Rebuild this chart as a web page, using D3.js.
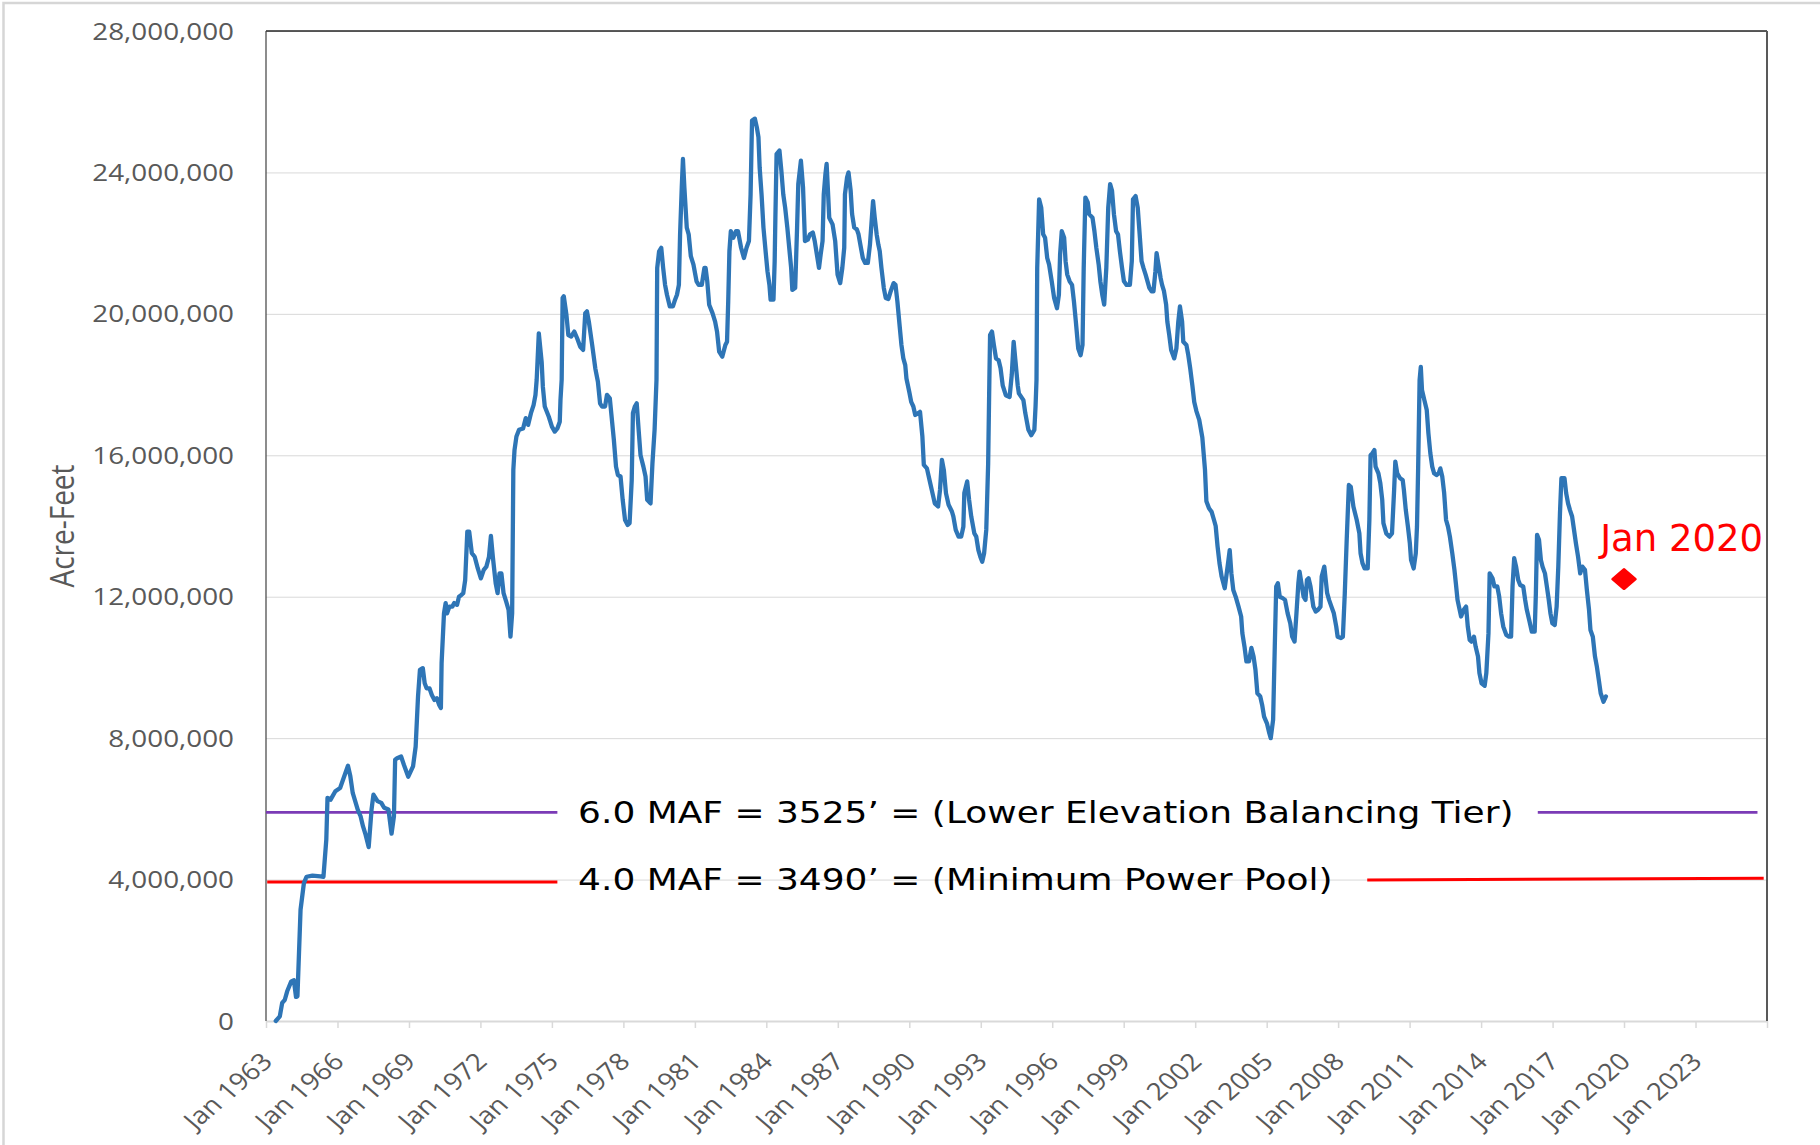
<html>
<head>
<script src="https://d3js.org/d3.v7.min.js"></script>
<style>
  body { margin: 0; background: #fff; }
  .gridlines line { stroke: #d9d9d9; }
  .gridlines .domain { stroke: none; }
  .tick-label { font-family: "Open Sans", sans-serif; font-size: 24px; fill: #595959; }
</style>
</head>
<body>
<script>
// Lake storage in million acre-feet, [decimal year, MAF]
const storage1963to1979 = [
  [1963.41,0.0],[1963.58,0.13],[1963.68,0.51],[1963.79,0.6],[1963.89,0.84],[1964.06,1.12],[1964.17,1.15],
  [1964.26,0.68],[1964.32,0.7],[1964.45,3.15],[1964.59,3.9],[1964.70,4.08],[1964.95,4.11],[1965.28,4.09],
  [1965.41,4.08],[1965.53,5.13],[1965.58,6.31],[1965.71,6.26],[1965.91,6.5],[1966.11,6.59],[1966.31,6.97],
  [1966.44,7.22],[1966.54,6.92],[1966.64,6.45],[1966.85,5.98],[1966.97,5.79],[1967.07,5.51],[1967.18,5.27],
  [1967.31,4.92],[1967.43,5.98],[1967.51,6.4],[1967.68,6.22],[1967.84,6.17],[1967.96,6.03],[1968.14,5.98],
  [1968.27,5.3],[1968.37,5.79],[1968.42,7.39],[1968.5,7.43],[1968.67,7.48],[1968.79,7.24],[1968.97,6.91],
  [1969.17,7.2],[1969.28,7.76],[1969.38,9.18],[1969.46,9.93],[1969.58,9.98],[1969.66,9.55],[1969.74,9.41],
  [1969.86,9.41],[1969.96,9.22],[1970.07,9.08],[1970.17,9.13],[1970.27,8.94],[1970.34,8.85],[1970.37,10.12],
  [1970.47,11.53],[1970.54,11.82],[1970.60,11.53],[1970.70,11.72],[1970.82,11.72],[1970.90,11.82],[1971.02,11.77],
  [1971.10,12.0],[1971.20,12.05],[1971.28,12.1],[1971.36,12.47],[1971.45,13.84],[1971.53,13.84],[1971.64,13.23],
  [1971.76,13.13],[1971.89,12.8],[1972.02,12.52],[1972.14,12.76],[1972.25,12.85],[1972.36,13.13],[1972.44,13.72],
  [1972.52,13.13],[1972.64,12.38],[1972.72,12.1],[1972.80,12.66],[1972.88,12.66],[1972.97,12.1],[1973.08,11.86],
  [1973.18,11.63],[1973.26,10.87],[1973.33,11.53],[1973.38,15.59],[1973.43,16.15],[1973.51,16.53],[1973.62,16.72],
  [1973.79,16.76],[1973.90,17.05],[1974.00,16.86],[1974.12,17.19],[1974.23,17.42],[1974.31,17.71],[1974.36,18.13],
  [1974.45,19.45],[1974.57,18.64],[1974.62,17.94],[1974.70,17.38],[1974.87,17.09],[1975.00,16.81],[1975.12,16.67],
  [1975.23,16.76],[1975.33,16.95],[1975.36,17.56],[1975.41,18.13],[1975.45,20.45],[1975.50,20.5],[1975.61,19.97],
  [1975.69,19.4],[1975.81,19.36],[1975.94,19.5],[1976.06,19.31],[1976.19,19.07],[1976.31,18.98],[1976.40,20.02],
  [1976.47,20.07],[1976.55,19.78],[1976.69,19.12],[1976.82,18.46],[1976.93,18.08],[1977.02,17.47],[1977.10,17.38],
  [1977.23,17.38],[1977.31,17.71],[1977.43,17.61],[1977.60,16.43],[1977.69,15.68],[1977.77,15.44],[1977.88,15.4],
  [1977.97,14.74],[1978.07,14.17],[1978.18,14.03],[1978.26,14.08],[1978.35,15.3],[1978.40,17.19],[1978.48,17.38],
  [1978.56,17.47],[1978.64,16.72],[1978.72,16.0],[1978.84,15.68],[1978.93,15.4],[1979.00,14.74],[1979.14,14.64],
  [1979.22,15.77],[1979.31,16.72],[1979.39,18.13],[1979.42,21.3],[1979.50,21.77],[1979.59,21.87],[1979.67,21.3],
  [1979.75,20.82],[1979.83,20.54],[1979.95,20.21]
];
const storage1980to1994 = [
  [1980.08,20.21],[1980.17,20.4],[1980.25,20.54],[1980.33,20.82],[1980.38,22.25],[1980.45,23.57],[1980.50,24.38],
  [1980.56,23.57],[1980.66,22.44],[1980.74,22.25],[1980.83,21.63],[1980.94,21.39],[1981.07,20.92],[1981.16,20.82],
  [1981.29,20.82],[1981.40,21.3],[1981.45,21.3],[1981.52,20.92],[1981.60,20.26],[1981.74,20.02],[1981.85,19.78],
  [1981.93,19.5],[1982.02,18.93],[1982.15,18.79],[1982.28,19.12],[1982.35,19.21],[1982.40,20.35],[1982.45,21.77],
  [1982.51,22.34],[1982.61,22.15],[1982.73,22.34],[1982.81,22.34],[1982.94,21.87],[1983.06,21.58],[1983.17,21.87],
  [1983.27,22.06],[1983.34,23.38],[1983.40,25.47],[1983.52,25.52],[1983.60,25.28],[1983.67,25.0],[1983.72,24.14],
  [1983.80,23.38],[1983.88,22.44],[1983.97,21.77],[1984.05,21.2],[1984.13,20.82],[1984.18,20.4],[1984.30,20.4],
  [1984.35,21.49],[1984.38,22.72],[1984.43,24.52],[1984.55,24.62],[1984.63,24.05],[1984.71,23.38],[1984.79,23.0],
  [1984.88,22.44],[1984.96,21.87],[1985.04,21.3],[1985.09,20.68],[1985.21,20.73],[1985.29,22.44],[1985.34,23.67],
  [1985.45,24.33],[1985.54,23.57],[1985.62,22.06],[1985.74,22.1],[1985.83,22.25],[1985.95,22.3],[1986.03,22.06],
  [1986.12,21.68],[1986.21,21.3],[1986.28,21.68],[1986.36,22.06],[1986.41,23.38],[1986.48,23.95],[1986.53,24.24],
  [1986.58,23.57],[1986.64,22.72],[1986.78,22.53],[1986.89,22.06],[1986.99,21.11],[1987.10,20.87],[1987.19,21.3],
  [1987.27,21.87],[1987.30,23.38],[1987.39,23.86],[1987.45,24.0],[1987.54,23.48],[1987.60,22.82],[1987.69,22.44],
  [1987.80,22.39],[1987.87,22.25],[1987.97,21.87],[1988.05,21.58],[1988.15,21.44],[1988.26,21.44],[1988.35,21.96],
  [1988.43,22.72],[1988.48,23.19],[1988.55,22.72],[1988.63,22.25],[1988.70,21.96],[1988.76,21.77],[1988.83,21.3],
  [1988.93,20.73],[1989.01,20.45],[1989.12,20.42],[1989.22,20.64],[1989.34,20.87],[1989.42,20.82],[1989.50,20.35],
  [1989.59,19.69],[1989.67,19.12],[1989.75,18.74],[1989.83,18.55],[1989.88,18.17],[1990.00,17.79],[1990.08,17.51],
  [1990.17,17.38],[1990.25,17.14],[1990.38,17.19],[1990.45,17.23],[1990.55,16.53],[1990.61,15.73],[1990.74,15.63],
  [1990.88,15.21],[1990.99,14.88],[1991.07,14.64],[1991.21,14.55],[1991.29,15.02],[1991.37,15.87],[1991.45,15.59],
  [1991.54,14.93],[1991.65,14.6],[1991.79,14.41],[1991.85,14.27],[1991.95,13.89],[1992.07,13.7],[1992.18,13.7],
  [1992.27,13.98],[1992.31,14.93],[1992.43,15.26],[1992.51,14.74],[1992.60,14.27],[1992.73,13.79],[1992.81,13.7],
  [1992.90,13.32],[1992.98,13.13],[1993.06,12.99],[1993.14,13.23],[1993.23,13.89],[1993.31,15.77],[1993.36,18.13],
  [1993.39,19.4],[1993.47,19.5],[1993.55,19.12],[1993.64,18.74],[1993.75,18.69],[1993.83,18.46],[1993.92,17.98],
  [1994.05,17.7],[1994.21,17.65],[1994.30,18.27],[1994.38,19.21],[1994.46,18.64],[1994.55,17.98],[1994.60,17.75],
  [1994.79,17.56],[1994.87,17.19]
];
const storage1995to2008 = [
  [1995.00,16.72],[1995.12,16.57],[1995.25,16.72],[1995.30,17.38],[1995.34,18.13],[1995.37,21.3],[1995.45,23.24],
  [1995.54,23.0],[1995.62,22.25],[1995.70,22.15],[1995.79,21.58],[1995.87,21.39],[1995.98,20.92],[1996.08,20.45],
  [1996.20,20.16],[1996.28,20.54],[1996.33,21.68],[1996.40,22.34],[1996.50,22.15],[1996.56,21.49],[1996.63,21.11],
  [1996.73,20.92],[1996.83,20.82],[1996.91,20.35],[1996.99,19.78],[1997.09,19.02],[1997.19,18.83],[1997.27,19.12],
  [1997.32,21.3],[1997.39,23.29],[1997.49,23.15],[1997.55,22.82],[1997.69,22.72],[1997.77,22.34],[1997.85,21.87],
  [1997.95,21.39],[1998.02,20.92],[1998.10,20.54],[1998.18,20.26],[1998.27,21.3],[1998.35,23.0],[1998.43,23.67],
  [1998.51,23.48],[1998.59,22.82],[1998.68,22.34],[1998.76,22.25],[1998.84,21.77],[1998.93,21.3],[1999.01,20.92],
  [1999.12,20.82],[1999.26,20.82],[1999.34,21.49],[1999.39,23.24],[1999.50,23.33],[1999.59,23.0],[1999.67,22.25],
  [1999.75,21.49],[1999.83,21.3],[1999.92,21.11],[2000.00,20.92],[2000.08,20.73],[2000.17,20.64],[2000.25,20.64],
  [2000.33,21.2],[2000.38,21.72],[2000.46,21.39],[2000.55,21.01],[2000.61,20.82],[2000.69,20.64],[2000.78,20.26],
  [2000.83,19.78],[2000.91,19.4],[2000.99,18.98],[2001.12,18.74],[2001.21,19.02],[2001.29,19.78],[2001.36,20.21],
  [2001.45,19.78],[2001.50,19.21],[2001.63,19.12],[2001.71,18.83],[2001.79,18.46],[2001.88,17.98],[2001.96,17.51],
  [2002.05,17.25],[2002.17,17.0],[2002.30,16.5],[2002.41,15.6],[2002.47,14.7],[2002.58,14.5],[2002.69,14.4],
  [2002.79,14.17],[2002.86,14.0],[2002.94,13.42],[2003.02,12.95],[2003.11,12.57],[2003.24,12.24],[2003.36,12.85],
  [2003.45,13.32],[2003.52,12.66],[2003.60,12.19],[2003.70,12.0],[2003.82,11.72],[2003.93,11.44],[2003.98,10.97],
  [2004.07,10.59],[2004.15,10.17],[2004.26,10.17],[2004.36,10.55],[2004.45,10.31],[2004.53,9.93],[2004.61,9.27],
  [2004.73,9.18],[2004.81,8.94],[2004.89,8.61],[2005.01,8.42],[2005.11,8.14],[2005.17,8.0],[2005.27,8.52],
  [2005.34,10.59],[2005.40,12.29],[2005.47,12.38],[2005.55,12.0],[2005.67,11.96],[2005.77,11.91],[2005.88,11.53],
  [2005.99,11.25],[2006.07,10.87],[2006.17,10.73],[2006.25,11.53],[2006.33,12.38],[2006.38,12.71],[2006.46,12.38],
  [2006.55,12.0],[2006.63,11.91],[2006.69,12.47],[2006.76,12.52],[2006.84,12.29],[2006.96,11.72],[2007.06,11.58],
  [2007.16,11.63],[2007.26,11.72],[2007.31,12.57],[2007.42,12.85],[2007.54,12.1],[2007.62,11.91],[2007.72,11.72],
  [2007.82,11.53],[2007.92,11.16],[2007.98,10.87],[2008.12,10.83],[2008.20,10.87],[2008.28,12.1],[2008.36,13.61],
  [2008.45,15.16],[2008.53,15.11],[2008.64,14.55],[2008.78,14.17],[2008.89,13.79],[2008.94,13.23]
];
const storage2009to2019 = [
  [2009.02,12.95],[2009.11,12.8],[2009.24,12.8],[2009.31,14.17],[2009.36,16.0],[2009.44,16.06],[2009.52,16.15],
  [2009.57,15.68],[2009.69,15.49],[2009.77,15.21],[2009.85,14.74],[2009.90,14.08],[2010.02,13.79],[2010.15,13.7],
  [2010.26,13.79],[2010.35,15.02],[2010.40,15.82],[2010.48,15.49],[2010.60,15.35],[2010.71,15.3],[2010.76,15.02],
  [2010.84,14.45],[2010.93,13.98],[2011.01,13.51],[2011.06,13.04],[2011.17,12.8],[2011.26,13.23],[2011.31,13.98],
  [2011.36,15.68],[2011.42,18.13],[2011.47,18.5],[2011.52,17.85],[2011.62,17.56],[2011.72,17.28],[2011.79,16.62],
  [2011.87,16.06],[2011.95,15.68],[2012.03,15.49],[2012.13,15.44],[2012.22,15.49],[2012.29,15.63],[2012.37,15.4],
  [2012.45,14.93],[2012.53,14.17],[2012.61,13.98],[2012.69,13.7],[2012.79,13.23],[2012.88,12.76],[2012.94,12.38],
  [2013.01,11.91],[2013.07,11.72],[2013.16,11.44],[2013.27,11.63],[2013.37,11.72],[2013.44,11.16],[2013.52,10.78],
  [2013.60,10.73],[2013.70,10.87],[2013.77,10.59],[2013.87,10.31],[2013.93,9.84],[2014.02,9.55],[2014.15,9.48],
  [2014.22,9.84],[2014.31,10.97],[2014.36,12.66],[2014.48,12.52],[2014.56,12.29],[2014.68,12.29],[2014.76,12.0],
  [2014.84,11.53],[2014.93,11.16],[2015.06,10.92],[2015.17,10.87],[2015.26,10.87],[2015.32,12.29],[2015.39,13.09],
  [2015.47,12.85],[2015.56,12.47],[2015.64,12.33],[2015.77,12.29],[2015.85,11.91],[2015.92,11.63],[2016.02,11.34],
  [2016.13,11.01],[2016.25,11.01],[2016.30,12.1],[2016.35,13.75],[2016.43,13.61],[2016.51,13.04],[2016.58,12.85],
  [2016.68,12.66],[2016.76,12.29],[2016.84,11.91],[2016.91,11.53],[2016.99,11.25],[2017.09,11.2],[2017.17,11.72],
  [2017.24,12.85],[2017.31,14.36],[2017.37,15.35],[2017.50,15.35],[2017.57,14.93],[2017.65,14.64],[2017.73,14.45],
  [2017.82,14.27],[2017.90,13.89],[2017.98,13.51],[2018.07,13.13],[2018.16,12.66],[2018.25,12.85],[2018.36,12.76],
  [2018.44,12.19],[2018.53,11.63],[2018.59,11.06],[2018.69,10.87],[2018.78,10.31],[2018.86,10.02],[2018.94,9.65],
  [2019.02,9.27],[2019.14,9.03],[2019.24,9.18]
];

const xTickYears = [1963,1966,1969,1972,1975,1978,1981,1984,1987,1990,1993,1996,1999,2002,2005,2008,2011,2014,2017,2020,2023];
const yTicks = [0,4000000,8000000,12000000,16000000,20000000,24000000,28000000];

// reference lines: [start year, end year, MAF at start, MAF at end]
const tierLines = [[1963.0,1975.23,5.9,5.9],[2016.38,2025.6,5.9,5.9]];
const powerPoolLines = [[1963.05,1975.23,3.93,3.93],[2009.22,2025.86,3.99,4.04]];
const tierLabel = "6.0 MAF = 3525\u2019 = (Lower Elevation Balancing Tier)";
const powerPoolLabel = "4.0 MAF = 3490\u2019 = (Minimum Power Pool)";
const projection = { year: 2020.0, maf: 12.5, label: "Jan 2020" };

const stretch = 1.16; // the picture is a little wider than tall text would be

function toDate(y) {
  const yr = Math.floor(y);
  const a = new Date(yr, 0, 1), b = new Date(yr + 1, 0, 1);
  return new Date(+a + (y - yr) * (b - a));
}

const width = 1820, height = 1145;
const margins = {top: 31, right: 53, bottom: 124, left: 266};

const svg = d3.select('body').append('svg')
  .attr('width', width)
  .attr('height', height);

// outer frame
svg.append('rect')
  .attr('x', 3.5).attr('y', 3)
  .attr('width', width + 20).attr('height', height + 20)
  .attr('fill', 'white')
  .attr('stroke', '#d6d6d6')
  .attr('stroke-width', 2.5);

const xScale = d3.scaleTime()
  .domain([new Date(1963, 0, 1), new Date(2026, 0, 1)])
  .range([margins.left, width - margins.right]);

const yScale = d3.scaleLinear()
  .domain([0, 28000000])
  .range([height - margins.bottom, margins.top]);

// gridlines
svg.append('g')
  .attr('class', 'gridlines')
  .attr('transform', `translate(${margins.left},0)`)
  .call(d3.axisLeft(yScale).tickValues(yTicks.slice(1)).tickFormat('').tickSize(-(width - margins.left - margins.right)));

// y labels
svg.append('g').selectAll('text')
  .data(yTicks)
  .join('text')
  .attr('class', 'tick-label')
  .attr('text-anchor', 'end')
  .attr('dy', '0.36em')
  .attr('transform', d => `translate(${margins.left - 32},${yScale(d)}) scale(${stretch},1)`)
  .text(d => d3.format(',')(d));

// x axis
const xAxis = d3.axisBottom(xScale)
  .tickValues(xTickYears.map(y => new Date(y, 0, 1)).concat([xScale.domain()[1]]))
  .tickFormat('')
  .tickSizeInner(7).tickSizeOuter(0);
const xg = svg.append('g')
  .attr('transform', `translate(0,${yScale(0)})`)
  .call(xAxis);
xg.selectAll('line').attr('stroke', '#d9d9d9').attr('stroke-width', 1.5);
xg.select('.domain').attr('stroke', '#d9d9d9').attr('stroke-width', 2);

svg.append('g').selectAll('text')
  .data(xTickYears)
  .join('text')
  .attr('class', 'tick-label')
  .attr('text-anchor', 'end')
  .attr('transform', d => `translate(${xScale(new Date(d, 0, 1)) + 8},${yScale(0) + 42}) scale(${stretch},1) rotate(-45)`)
  .text(d => 'Jan ' + d);

// plot frame (top, left, right)
const x0 = xScale.range()[0], x1 = xScale.range()[1];
const yTop = yScale(28000000), yBot = yScale(0);
svg.append('line').attr('x1', x0).attr('x2', x1).attr('y1', yTop).attr('y2', yTop)
  .attr('stroke', '#262626').attr('stroke-width', 1.3);
svg.append('line').attr('x1', x0).attr('x2', x0).attr('y1', yTop).attr('y2', yBot)
  .attr('stroke', '#404040').attr('stroke-width', 1.2);
svg.append('line').attr('x1', x1).attr('x2', x1).attr('y1', yTop).attr('y2', yBot)
  .attr('stroke', '#595959').attr('stroke-width', 2);

// axis title
svg.append('text')
  .attr('transform', `translate(74,526) scale(${stretch},1) rotate(-90)`)
  .attr('text-anchor', 'middle')
  .attr('font-family', 'Open Sans, sans-serif')
  .attr('font-size', 28)
  .attr('fill', '#595959')
  .text('Acre-Feet');

// reference lines
function refLine(segs, color, w) {
  svg.append('g').selectAll('line')
    .data(segs)
    .join('line')
    .attr('x1', d => xScale(toDate(d[0])))
    .attr('x2', d => xScale(toDate(d[1])))
    .attr('y1', d => yScale(d[2] * 1e6))
    .attr('y2', d => yScale(d[3] * 1e6))
    .attr('stroke', color)
    .attr('stroke-width', w);
}
refLine(tierLines, '#7b3bb6', 2.8);
refLine(powerPoolLines, '#ff0000', 3);

// storage line
const storage = storage1963to1979.concat(storage1980to1994, storage1995to2008, storage2009to2019);
const line = d3.line()
  .x(d => xScale(toDate(d[0])))
  .y(d => yScale(d[1] * 1e6));
svg.append('path')
  .datum(storage)
  .attr('d', line)
  .attr('fill', 'none')
  .attr('stroke', '#2e75b6')
  .attr('stroke-width', 4.3)
  .attr('stroke-linejoin', 'round')
  .attr('stroke-linecap', 'round');

// annotations
function note(txt, year, maf) {
  svg.append('text')
    .attr('transform', `translate(${xScale(toDate(year))},${yScale(maf * 1e6)}) scale(${stretch},1)`)
    .attr('font-family', 'DejaVu Sans, sans-serif')
    .attr('font-size', 31)
    .attr('fill', '#000')
    .text(txt);
}
note(tierLabel, 1976.1, 5.6);
note(powerPoolLabel, 1976.1, 3.7);

// projected point
svg.append('path')
  .attr('d', d3.symbol(d3.symbolSquare, 190)())
  .attr('transform', `translate(${xScale(toDate(projection.year))},${yScale(projection.maf * 1e6)}) scale(${stretch},1) rotate(45)`)
  .attr('fill', '#ff0000')
  .attr('stroke', '#ff0000')
  .attr('stroke-width', 2.5)
  .attr('stroke-linejoin', 'round');

svg.append('text')
  .attr('x', xScale(toDate(2019.0)))
  .attr('y', yScale(13.28e6))
  .attr('font-family', 'DejaVu Sans, sans-serif')
  .attr('font-size', 37)
  .attr('fill', '#ff0000')
  .text(projection.label);
</script>
</body>
</html>
